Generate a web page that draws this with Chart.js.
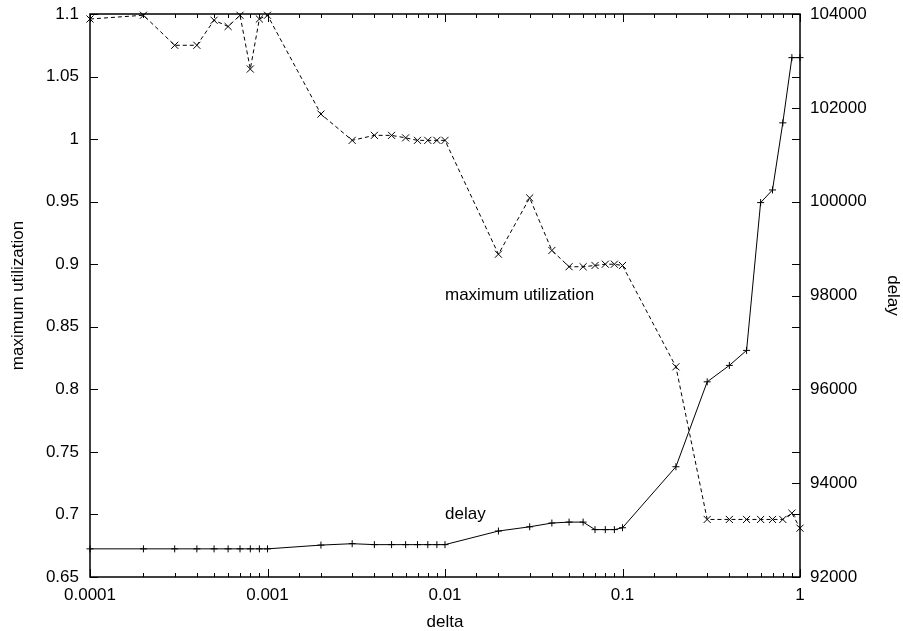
<!DOCTYPE html>
<html>
<head>
<meta charset="utf-8">
<script src="https://cdn.jsdelivr.net/npm/chart.js@4/dist/chart.umd.min.js"></script>
<style>
  html, body { margin: 0; padding: 0; background: #fff; }
  canvas { display: block; }
</style>
</head>
<body>
<canvas id="chart" width="903" height="631"></canvas>
<script>
// delta values (log x axis)
const deltas = [
  0.0001, 0.0002, 0.0003, 0.0004, 0.0005, 0.0006, 0.0007, 0.0008, 0.0009,
  0.001, 0.002, 0.003, 0.004, 0.005, 0.006, 0.007, 0.008, 0.009,
  0.01, 0.02, 0.03, 0.04, 0.05, 0.06, 0.07, 0.08, 0.09,
  0.1, 0.2, 0.3, 0.4, 0.5, 0.6, 0.7, 0.8, 0.9,
  1
];

// left axis
const utilization = [
  1.096, 1.099, 1.075, 1.075, 1.095, 1.090, 1.099, 1.056, 1.096,
  1.099, 1.020, 0.999, 1.003, 1.003, 1.001, 0.999, 0.999, 0.999,
  0.999, 0.908, 0.953, 0.911, 0.898, 0.898, 0.899, 0.900, 0.900,
  0.899, 0.818, 0.696, 0.696, 0.696, 0.696, 0.696, 0.696, 0.701,
  0.689
];

// right axis
const delay = [
  92600, 92600, 92600, 92600, 92600, 92600, 92600, 92600, 92600,
  92600, 92680, 92710, 92690, 92690, 92690, 92690, 92690, 92690,
  92690, 92980, 93070, 93150, 93170, 93170, 93010, 93010, 93010,
  93050, 94350, 96160, 96510, 96830, 99980, 100250, 101680, 103070,
  103070
];

const xTicks = [0.0001, 0.001, 0.01, 0.1, 1];
const xTickLabels = ['0.0001', '0.001', '0.01', '0.1', '1'];
const leftTicks = [0.65, 0.7, 0.75, 0.8, 0.85, 0.9, 0.95, 1, 1.05, 1.1];
const leftTickLabels = ['0.65', '0.7', '0.75', '0.8', '0.85', '0.9', '0.95', '1', '1.05', '1.1'];
const rightTicks = [92000, 94000, 96000, 98000, 100000, 102000, 104000];
const rightTickLabels = ['92000', '94000', '96000', '98000', '100000', '102000', '104000'];

const FONT = { family: '"Liberation Sans", Arial, sans-serif', size: 17 };

function decadeIndex(v) {
  return xTicks.findIndex(t => Math.abs(v / t - 1) < 1e-6);
}

// gnuplot style border, inward ticks and the two in-plot labels
const gnuFrame = {
  id: 'gnuFrame',
  beforeDatasetsDraw(chart) {
    const { ctx, chartArea: a, scales } = chart;
    ctx.save();
    ctx.strokeStyle = '#000';
    ctx.lineWidth = 1;
    ctx.beginPath();
    scales.x.ticks.forEach(t => {
      const px = Math.round(scales.x.getPixelForValue(t.value)) + 0.5;
      const len = decadeIndex(t.value) >= 0 ? 8 : 4;
      ctx.moveTo(px, a.bottom); ctx.lineTo(px, a.bottom - len);
      ctx.moveTo(px, a.top); ctx.lineTo(px, a.top + len);
    });
    scales.y.ticks.forEach(t => {
      const py = Math.round(scales.y.getPixelForValue(t.value)) + 0.5;
      ctx.moveTo(a.left, py); ctx.lineTo(a.left + 8, py);
      ctx.moveTo(a.right, py); ctx.lineTo(a.right - 8, py);
    });
    scales.y2.ticks.forEach(t => {
      const py = Math.round(scales.y2.getPixelForValue(t.value)) + 0.5;
      ctx.moveTo(a.right, py); ctx.lineTo(a.right - 8, py);
    });
    ctx.stroke();
    ctx.lineWidth = 1.5;
    ctx.strokeRect(a.left, a.top, a.right - a.left, a.bottom - a.top);
    ctx.restore();
  },
  afterDatasetsDraw(chart) {
    const { ctx, scales } = chart;
    ctx.save();
    ctx.fillStyle = '#000';
    ctx.font = FONT.size + 'px ' + FONT.family;
    ctx.textAlign = 'left';
    ctx.textBaseline = 'middle';
    ctx.fillText('maximum utilization', scales.x.getPixelForValue(0.01), scales.y.getPixelForValue(0.875));
    ctx.fillText('delay', scales.x.getPixelForValue(0.01), scales.y.getPixelForValue(0.7));
    ctx.restore();
  }
};

const noGrid = { display: false, drawTicks: false, tickLength: 0 };

// fixed axis box sizes so the plot area sits where the reference has it
function fitY(width) {
  return s => {
    s.width = width;
    s.paddingTop = 0;
    s.paddingBottom = 0;
  };
}

new Chart(document.getElementById('chart'), {
  type: 'line',
  data: {
    datasets: [
      {
        label: 'maximum utilization',
        data: deltas.map((d, i) => ({ x: d, y: utilization[i] })),
        yAxisID: 'y',
        borderColor: '#000',
        borderWidth: 1,
        borderDash: [4, 3],
        pointStyle: 'crossRot',
        pointRadius: 5,
        pointBorderWidth: 1,
        pointBorderColor: '#000',
        fill: false,
        tension: 0,
        clip: false
      },
      {
        label: 'delay',
        data: deltas.map((d, i) => ({ x: d, y: delay[i] })),
        yAxisID: 'y2',
        borderColor: '#000',
        borderWidth: 1,
        pointStyle: 'cross',
        pointRadius: 3.5,
        pointBorderWidth: 1,
        pointBorderColor: '#000',
        fill: false,
        tension: 0,
        clip: false
      }
    ]
  },
  options: {
    responsive: false,
    animation: false,
    devicePixelRatio: 1,
    layout: { padding: { top: 14, left: 0, right: 0, bottom: 0 } },
    plugins: { legend: { display: false }, tooltip: { enabled: false } },
    scales: {
      x: {
        type: 'logarithmic',
        min: 0.0001,
        max: 1,
        grid: noGrid,
        border: { display: false },
        afterFit: s => { s.height = 54; },
        ticks: {
          autoSkip: false,
          maxRotation: 0,
          padding: 8,
          color: '#000',
          font: FONT,
          callback: v => {
            const i = decadeIndex(v);
            return i >= 0 ? xTickLabels[i] : '';
          }
        },
        title: { display: true, text: 'delta', color: '#000', font: { ...FONT, lineHeight: 1 }, padding: { top: 1, bottom: 0 } }
      },
      y: {
        type: 'linear',
        position: 'left',
        min: 0.65,
        max: 1.1,
        grid: noGrid,
        border: { display: false },
        afterFit: fitY(90),
        afterBuildTicks: s => { s.ticks = leftTicks.map(v => ({ value: v })); },
        ticks: {
          padding: 11,
          color: '#000',
          font: FONT,
          callback: (v, i) => leftTickLabels[i]
        },
        title: { display: true, text: 'maximum utilization', color: '#000', font: FONT, padding: { top: 8, bottom: 0 } }
      },
      y2: {
        type: 'linear',
        position: 'right',
        min: 92000,
        max: 104000,
        grid: noGrid,
        border: { display: false },
        afterFit: fitY(103),
        afterBuildTicks: s => { s.ticks = rightTicks.map(v => ({ value: v })); },
        ticks: {
          padding: 10,
          color: '#000',
          font: FONT,
          callback: (v, i) => rightTickLabels[i]
        },
        title: { display: true, text: 'delay', color: '#000', font: FONT, padding: { top: 0, bottom: 0 } }
      }
    }
  },
  plugins: [gnuFrame]
});
</script>
</body>
</html>
